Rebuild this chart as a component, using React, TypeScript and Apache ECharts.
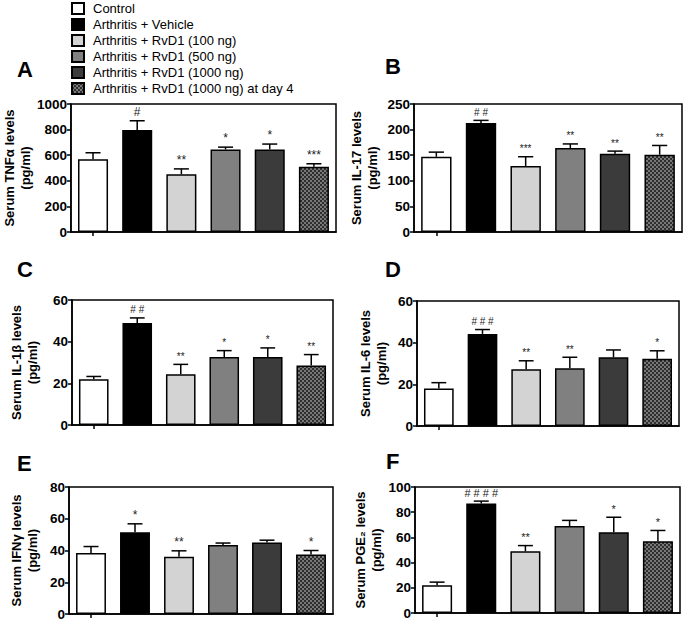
import React, { useEffect, useRef } from 'react';
import * as echarts from 'echarts';

const groups = [
  'Control',
  'Arthritis + Vehicle',
  'Arthritis + RvD1 (100 ng)',
  'Arthritis + RvD1 (500 ng)',
  'Arthritis + RvD1 (1000 ng)',
  'Arthritis + RvD1 (1000 ng) at day 4',
];

// Panel A: TNFα
const tnfMean = [569, 796, 452, 645, 645, 509];
const tnfSem = [50, 73, 41, 18, 42, 24];
const tnfSig = ['', '#', '**', '*', '*', '***'];
// Panel B: IL-17
const il17Mean = [147, 213, 129, 164, 153, 151];
const il17Sem = [9, 5, 18, 8, 5, 18];
const il17Sig = ['', '# #', '***', '**', '**', '**'];
// Panel C: IL-1β
const il1bMean = [22, 49, 24.4, 32.6, 32.6, 28.6];
const il1bSem = [1.3, 2.4, 4.7, 3.1, 4.4, 5.2];
const il1bSig = ['', '# #', '**', '*', '*', '**'];
// Panel D: IL-6
const il6Mean = [18, 44.2, 27.3, 27.7, 33, 32.3];
const il6Sem = [2.8, 2.1, 4, 5.3, 3.5, 3.8];
const il6Sig = ['', '# # #', '**', '**', '', '*'];
// Panel E: IFNγ
const ifnMean = [38.5, 51.5, 36, 43.5, 45, 37.5];
const ifnSem = [4, 5.3, 3.8, 1.2, 1.5, 2.5];
const ifnSig = ['', '*', '**', '', '', '*'];
// Panel F: PGE2
const pgeMean = [22, 87, 49, 69, 64, 57];
const pgeSem = [2.5, 1.8, 4.5, 4.5, 12, 8.5];
const pgeSig = ['', '# # # #', '**', '', '*', '*'];

const yMaxes = [1000, 250, 60, 60, 80, 100];
const yIntervals = [200, 50, 20, 20, 20, 20];
const letters = ['A', 'B', 'C', 'D', 'E', 'F'];
const titles = [
  'Serum TNFα levels\n(pg/ml)',
  'Serum IL-17 levels\n(pg/ml)',
  'Serum IL-1β levels\n(pg/ml)',
  'Serum IL-6 levels\n(pg/ml)',
  'Serum IFNγ levels\n(pg/ml)',
  'Serum PGE₂ levels\n(pg/ml)',
];

const FONT = '"Liberation Sans", Arial, Helvetica, sans-serif';

export default function App() {
  const ref = useRef<HTMLDivElement>(null);

  useEffect(() => {
    document.body.style.margin = '0';
    if (!ref.current) return;
    const chart = echarts.init(ref.current, undefined, { renderer: 'svg' });

    const cv = document.createElement('canvas');
    cv.width = 4;
    cv.height = 4;
    const ctx = cv.getContext('2d')!;
    ctx.fillStyle = '#787878';
    ctx.fillRect(0, 0, 4, 4);
    ctx.fillStyle = '#2e2e2e';
    ctx.fillRect(0, 0, 2, 2);
    ctx.fillRect(2, 2, 2, 2);
    const pattern: any = { image: cv, repeat: 'repeat' };

    const fills: any[] = ['#ffffff', '#000000', '#d3d3d3', '#808080', '#3b3b3b', pattern];

    const means = [tnfMean, il17Mean, il1bMean, il6Mean, ifnMean, pgeMean];
    const sems = [tnfSem, il17Sem, il1bSem, il6Sem, ifnSem, pgeSem];
    const sigs = [tnfSig, il17Sig, il1bSig, il6Sig, ifnSig, pgeSig];

    // layout: [left, top, right, bottom]
    const rects = [
      [68, 104, 336, 232],
      [414, 104, 682, 232],
      [72, 300, 333, 425],
      [417, 301, 679, 426],
      [69, 487, 333, 614],
      [415, 487, 680, 613],
    ];
    const nameGaps = [44, 50, 48, 44, 45, 42];
    const letterPos = [
      [17, 58],
      [385, 55],
      [17, 258],
      [385, 258],
      [17, 452],
      [386, 450],
    ];
    const sigSizes = [12, 10, 10, 10, 12, 11];

    const grid: any[] = [];
    const xAxis: any[] = [];
    const yAxis: any[] = [];
    const series: any[] = [];
    const line = { color: '#000', width: 1.5 };

    rects.forEach((r, i) => {
      grid.push({
        left: r[0],
        top: r[1],
        width: r[2] - r[0],
        height: r[3] - r[1],
        show: true,
        borderColor: '#000',
        borderWidth: 1.5,
        backgroundColor: 'transparent',
      });
      xAxis.push({
        type: 'category',
        gridIndex: i,
        data: groups,
        axisLine: { show: true, lineStyle: line },
        axisTick: { show: true, alignWithLabel: true, length: 4, lineStyle: line },
        axisLabel: { show: false },
        splitLine: { show: false },
      });
      yAxis.push({
        type: 'value',
        gridIndex: i,
        min: 0,
        max: yMaxes[i],
        interval: yIntervals[i],
        axisLine: { show: true, lineStyle: line },
        axisTick: { show: true, length: 4, lineStyle: line },
        axisLabel: {
          fontFamily: FONT,
          fontWeight: 'bold',
          fontSize: 13.5,
          color: '#000',
          margin: 4,
          formatter: (v: number) => String(v),
        },
        splitLine: { show: false },
        name: titles[i],
        nameLocation: 'middle',
        nameRotate: 90,
        nameGap: nameGaps[i],
        nameTextStyle: {
          fontFamily: FONT,
          fontWeight: 'bold',
          fontSize: 13,
          color: '#000',
          lineHeight: 16,
          align: 'center',
          verticalAlign: 'middle',
        },
      });
      groups.forEach((g, gi) => {
        series.push({
          type: 'bar',
          name: g,
          xAxisIndex: i,
          yAxisIndex: i,
          barWidth: '68%',
          barGap: '-100%',
          silent: true,
          itemStyle: { color: fills[gi], borderColor: '#000', borderWidth: 1.5 },
          data: means[i].map((m, k) => (k === gi ? m : '-')),
        });
      });
      const sig = sigs[i];
      const fs = sigSizes[i];
      series.push({
        type: 'custom',
        xAxisIndex: i,
        yAxisIndex: i,
        silent: true,
        z: 5,
        data: means[i].map((m, k) => [k, m, m + sems[i][k]]),
        renderItem: (params: any, api: any) => {
          const k = api.value(0);
          const p0 = api.coord([k, api.value(1)]);
          const p1 = api.coord([k, api.value(2)]);
          const bw = api.size([1, 0])[0] * 0.68;
          const cap = bw * 0.25;
          const children: any[] = [
            { type: 'line', shape: { x1: p0[0], y1: p0[1], x2: p1[0], y2: p1[1] }, style: { stroke: '#000', lineWidth: 1.5 } },
            { type: 'line', shape: { x1: p0[0] - cap, y1: p1[1], x2: p0[0] + cap, y2: p1[1] }, style: { stroke: '#000', lineWidth: 1.5 } },
          ];
          const label = sig[params.dataIndex];
          if (label) {
            children.push({
              type: 'text',
              x: p0[0],
              y: p1[1] - 3,
              style: {
                text: label,
                fill: '#222',
                fontSize: fs,
                fontFamily: FONT,
                textAlign: 'center',
                textVerticalAlign: 'bottom',
              },
            });
          }
          return { type: 'group', children };
        },
      });
    });

    const graphic: any[] = letters.map((l, i) => ({
      type: 'text',
      left: letterPos[i][0],
      top: letterPos[i][1],
      style: { text: l, fontSize: 22, fontWeight: 'bold', fontFamily: FONT, fill: '#000' },
    }));

    chart.setOption({
      animation: false,
      backgroundColor: '#fff',
      legend: {
        data: groups,
        orient: 'vertical',
        left: 71,
        top: 2,
        padding: 0,
        itemWidth: 12,
        itemHeight: 11,
        itemGap: 3,
        icon: 'rect',
        selectedMode: false,
        textStyle: { fontFamily: FONT, fontSize: 13, color: '#000', padding: [0, 0, 0, 4] },
      },
      grid,
      xAxis,
      yAxis,
      series,
      graphic,
    });

    return () => chart.dispose();
  }, []);

  return <div ref={ref} style={{ width: 685, height: 621 }} />;
}
